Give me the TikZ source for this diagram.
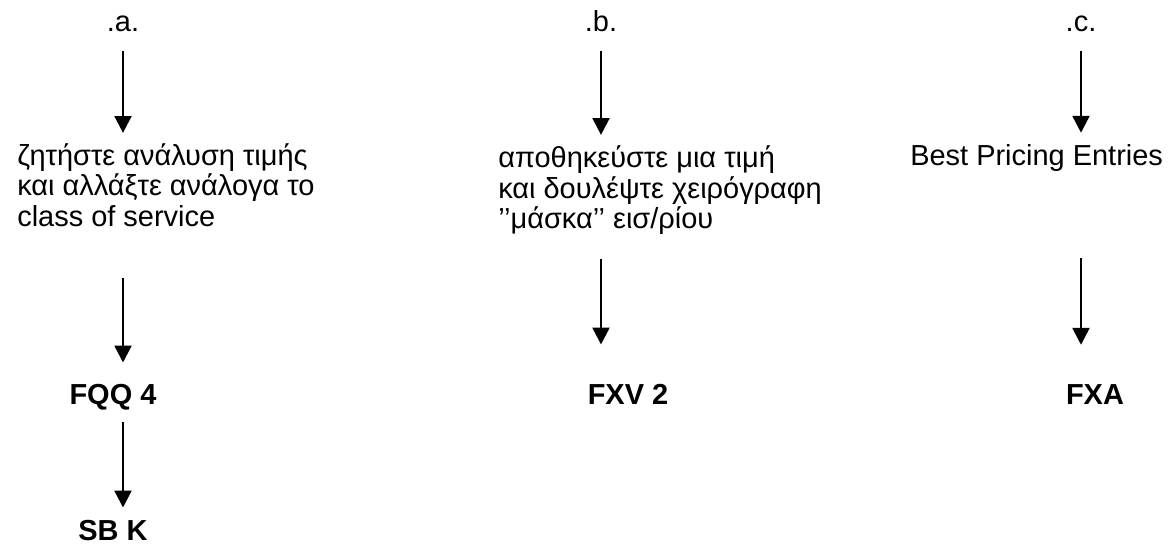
\documentclass[tikz,border=0pt]{standalone}
\usepackage{fontspec}
\setmainfont{Liberation Sans}
\usepackage{tikz}
\usetikzlibrary{arrows.meta}
\usetikzlibrary{positioning}
\tikzset{arr/.style = {line width=1.8pt, -{Triangle[length=0.42cm, width=0.42cm]}}}
\tikzset{txt/.style = {inner sep=0, font=\fontsize{20.6}{22.05}\selectfont}}
\tikzset{code/.style = {inner sep=0, font=\fontsize{20.6}{22.05}\selectfont\bfseries}}

\begin{document}
\begin{tikzpicture}
      \useasboundingbox (0, 0) rectangle (29.225, -13.6);
      \node [txt, anchor=base] (la) at (3.075, -0.8) {.a.};
      \node [txt, anchor=base] (lb) at (15.025, -0.8) {.b.};
      \node [txt, anchor=base] (lc) at (27.025, -0.8) {.c.};
      \node [txt, anchor=base west, align=left] (ta) at (0.425, -5.675)
            {ζητήστε ανάλυση τιμής\\και αλλάξτε ανάλογα το\\class of service};
      \node [txt, anchor=base west, align=left] (tb) at (12.45, -5.725)
            {αποθηκεύστε μια τιμή\\και δουλέψτε χειρόγραφη\\{'}{'}μάσκα{'}{'} εισ/ρίου};
      \node [txt, anchor=base west] (tc) at (22.75, -4.15) {Best Pricing Entries};
      \node [code, anchor=base] (fqq) at (2.825, -10.125) {FQQ 4};
      \node [code, anchor=base] (sbk) at (2.825, -13.5) {SB K};
      \node [code, anchor=base] (fxv) at (15.7, -10.125) {FXV 2};
      \node [code, anchor=base] (fxa) at (27.375, -10.125) {FXA};
      \draw [arr, shorten <=0.45cm, shorten >=0.25cm] (la.south) -- (la.south |- ta.north);
      \draw [arr, shorten <=0.45cm, shorten >=0.25cm] (lb.south) -- (lb.south |- tb.north);
      \draw [arr, shorten <=0.45cm, shorten >=0.3cm] (lc.south) -- (lc.south |- tc.north);
      \draw [arr, shorten <=1.25cm, shorten >=0.55cm] (la.south |- ta.south) -- (la.south |- fqq.north);
      \draw [arr, shorten <=0.6cm, shorten >=1.0cm] (lb.south |- tb.south) -- (lb.south |- fxv.north);
      \draw [arr, shorten <=2.15cm, shorten >=1.0cm] (lc.south |- tc.south) -- (lc.south |- fxa.north);
      \draw [arr, shorten <=0.28cm, shorten >=0.3cm] (la.south |- fqq.south) -- (la.south |- sbk.north);
    \end{tikzpicture}
\end{document}
